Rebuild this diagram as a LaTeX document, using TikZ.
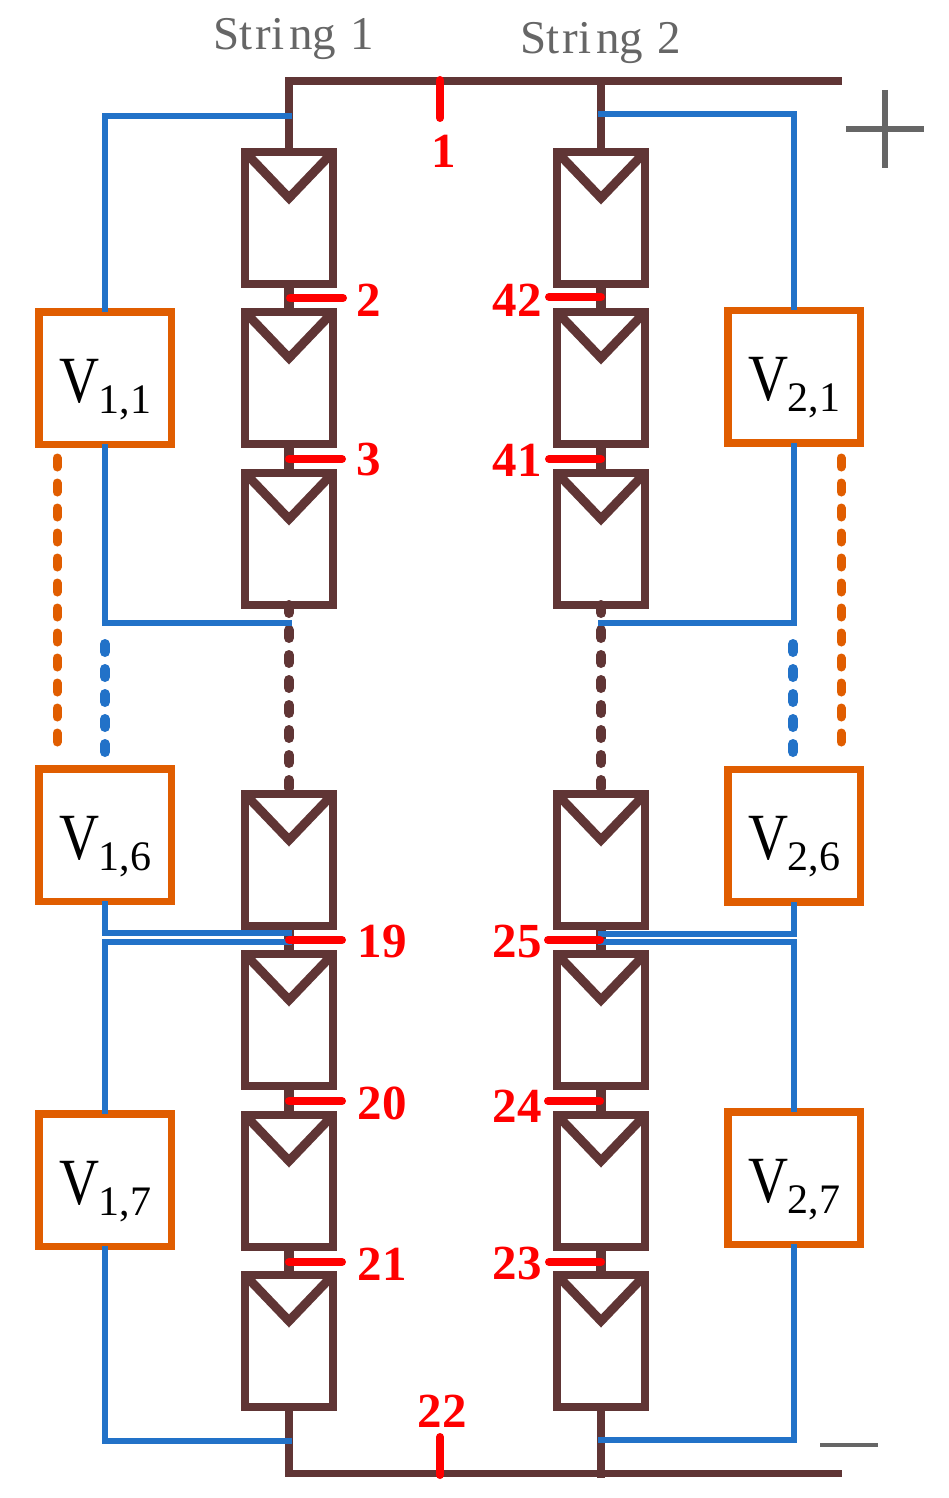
\documentclass[tikz,border=0pt]{standalone}
\usepackage{fontspec}
\setmainfont{Liberation Serif}
\usetikzlibrary{calc}
\definecolor{brn}{HTML}{603535}
\definecolor{blu}{HTML}{2272C8}
\definecolor{org}{HTML}{E05D00}
\definecolor{gry}{HTML}{666666}
\newcommand{\fsz}[1]{\fontsize{#1pt}{#1pt}\selectfont}
\newcommand{\VL}[2]{\smash{\kern1pt\raisebox{-24pt}{\fsz{66}\addfontfeature{FakeStretch=0.84}V}\kern-1.5pt\raisebox{-35pt}{\fsz{42}#1,#2}}}
\newcommand{\SL}[1]{St\kern3pt ri\kern5pt ng\kern14pt #1}
\tikzset{
  x=1pt,y=-1pt,
  panel/.style={draw=brn,line width=8pt,fill=white,minimum width=88pt,minimum height=132pt,inner sep=0,outer sep=0},
  chev/.style={draw=brn,line width=9pt,miter limit=10},
  wire/.style={draw=brn,line width=7.5pt},
  link/.style={draw=brn,line width=10pt,shorten <=-3pt,shorten >=-3pt},
  stub/.style={draw=brn,line width=8pt},
  bwire/.style={draw=blu,line width=5.5pt},
  vbox/.style={draw=org,line width=7.5pt,fill=white,minimum width=132.5pt,minimum height=132.5pt,inner sep=0,outer sep=0,text=black},
  tick/.style={draw=red,line width=8pt,line cap=round},
  num/.style={text=red,font=\fsz{49}\bfseries,inner sep=0},
  strlab/.style={text=gry,font=\fsz{47},inner sep=0,anchor=base west},
  wdot/.style={draw=brn,line width=10pt,line cap=round,dash pattern=on 8pt off 17pt},
  bdot/.style={draw=blu,line width=10pt,line cap=round,dash pattern=on 8pt off 17pt},
  odot/.style={draw=org,line width=9pt,line cap=round,dash pattern=on 9pt off 16pt},
  sign/.style={draw=gry,line width=6pt},
  msign/.style={draw=gry,line width=4pt},
}
\begin{document}
\begin{tikzpicture}
\useasboundingbox (0,0) rectangle (949,1498);
\coordinate (tl) at (289,81);
\coordinate (tm) at (601,81);
\coordinate (tr) at (842,81);
\coordinate (bl) at (289,1473.5);
\coordinate (bm) at (601,1473.5);
\coordinate (br) at (842,1473.5);
\coordinate (bx) at (601,1478);
\foreach \c/\x in {a/289,b/601}{
  \foreach \n/\y in {1/218,2/378,3/539,4/860,5/1020,6/1181,7/1341}{
    \coordinate (\c\n) at (\x,\y);
  }
}
\coordinate (la) at (292,116);
\coordinate (lb) at (292,623);
\coordinate (lc) at (292,933);
\coordinate (ld) at (292,942);
\coordinate (le) at (292,1441);
\coordinate (ra) at (598,114);
\coordinate (rb) at (598,623);
\coordinate (rc) at (598,934);
\coordinate (rd) at (598,942);
\coordinate (re) at (598,1440);
% buses first, panels over them
\draw[wire] (tl |- a1) -- (tl) -- (tr);
\draw[stub] (tm |- a1) -- (tm);
\draw[wire] (bl |- a7) -- (bl) -- (br);
% panels
\foreach \c in {a,b}{
  \foreach \n in {1,2,3,4,5,6,7}{
    \node[panel] (p\c\n) at (\c\n) {};
    \draw[chev] (p\c\n.north west) -- ([yshift=-46pt]p\c\n.north) -- (p\c\n.north east);
  }
  \draw[link] (p\c1.south) -- (p\c2.north);
  \draw[link] (p\c2.south) -- (p\c3.north);
  \draw[link] (p\c4.south) -- (p\c5.north);
  \draw[link] (p\c5.south) -- (p\c6.north);
  \draw[link] (p\c6.south) -- (p\c7.north);
  \draw[wdot] (p\c3.south) -- (p\c4.north);
}
\draw[stub,shorten <=-2pt] (pb7.south) -- (bx);
% converter boxes
\node[vbox] (v11) at (105,378) {\VL{1}{1}};
\node[vbox] (v16) at (105,835) {\VL{1}{6}};
\node[vbox] (v17) at (105,1180) {\VL{1}{7}};
\node[vbox] (v21) at (794,376.5) {\VL{2}{1}};
\node[vbox] (v26) at (794,835.5) {\VL{2}{6}};
\node[vbox] (v27) at (794,1178) {\VL{2}{7}};
% blue wiring
\draw[bwire] (la) -| (v11.north);
\draw[bwire] (v11.south) |- (lb);
\draw[bwire] (v16.south) |- (lc);
\draw[bwire] (ld) -| (v17.north);
\draw[bwire] (v17.south) |- (le);
\draw[bwire] (ra) -| (v21.north);
\draw[bwire] (v21.south) |- (rb);
\draw[bwire] (v26.south) |- (rc);
\draw[bwire] (rd) -| (v27.north);
\draw[bwire] (v27.south) |- (re);
% dotted continuation
\coordinate (d1a) at (105,644); \coordinate (d1b) at (105,756);
\coordinate (d2a) at (57,458); \coordinate (d2b) at (57,745);
\coordinate (d3a) at (793,644); \coordinate (d3b) at (793,756);
\coordinate (d4a) at (841,458); \coordinate (d4b) at (841,745);
\draw[bdot] (d1a) -- (d1b);
\draw[odot] (d2a) -- (d2b);
\draw[bdot] (d3a) -- (d3b);
\draw[odot] (d4a) -- (d4b);
% red ticks
\foreach \nm/\xa/\xb/\y in {t2/290/343/298,t3/289/342/459,t19/289/342/940,t20/289/342/1101,t21/289/342/1262,
  t42/601/549/297,t41/601/549/459,t25/600/548/940,t24/600/548/1101,t23/601/549/1262}{
  \coordinate (\nm a) at (\xa,\y);
  \coordinate (\nm b) at (\xb,\y);
  \draw[tick] (\nm a) -- (\nm b);
}
\coordinate (t1a) at (440,80); \coordinate (t1b) at (440,118);
\coordinate (t22a) at (440,1437); \coordinate (t22b) at (440,1475);
\draw[tick] (t1a) -- (t1b);
\draw[tick] (t22a) -- (t22b);
% labels
\node[num] (n1) at (444,151) {1};
\node[num] (n2) at (369,300) {2};
\node[num] (n3) at (369,460) {3};
\node[num] (n19) at (382,942) {19};
\node[num] (n20) at (382,1103) {20};
\node[num] (n21) at (382,1264) {21};
\node[num] (n22) at (442,1411) {22};
\node[num] (n42) at (517,300) {42};
\node[num] (n41) at (517,460) {41};
\node[num] (n25) at (517,942) {25};
\node[num] (n24) at (517,1106) {24};
\node[num] (n23) at (517,1264) {23};
\node[strlab] (s1) at (213,50) {\SL{1}};
\node[strlab] (s2) at (520,54) {\SL{2}};
% plus and minus
\coordinate (pl) at (846,129); \coordinate (pr) at (924,129);
\coordinate (pt) at (885,90); \coordinate (pb) at (885,168);
\coordinate (ml) at (820,1445); \coordinate (mr) at (878,1445);
\draw[sign] (pl) -- (pr);
\draw[sign] (pt) -- (pb);
\draw[msign] (ml) -- (mr);
\end{tikzpicture}
\end{document}
